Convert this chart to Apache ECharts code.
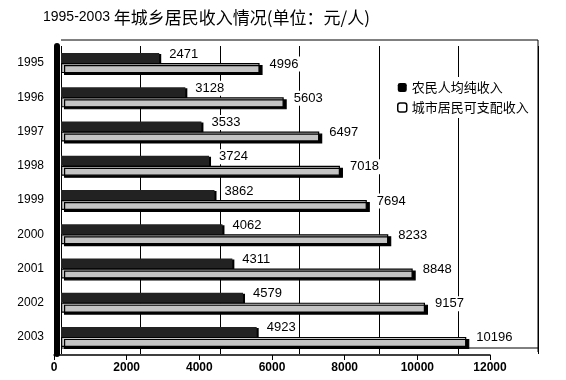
<!DOCTYPE html>
<html><head><meta charset="utf-8">
<script src="https://cdn.jsdelivr.net/npm/echarts@6/dist/echarts.min.js"></script>
<style>html,body{margin:0;padding:0;background:#fff}#c{width:566px;height:380px}</style>
</head><body><div id="c"></div>
<script>
var years = ['1995','1996','1997','1998','1999','2000','2001','2002','2003'];
var farmerIncome = [2471,3128,3533,3724,3862,4062,4311,4579,4923];
var urbanIncome = [4996,5603,6497,7018,7694,8233,8848,9157,10196];
var farmerName = '农民人均纯收入';
var urbanName = '城市居民可支配收入';
var titleYears = '1995-2003 ';
var titleRest = '年城乡居民收入情况(单位：元/人)';
var axisMax = 12000, axisStep = 2000;

var chart = echarts.init(document.getElementById('c'), null, {renderer:'canvas'});
var lbl = function(bg){
  return {show:true, position:'right', distance:8, offset:[0,-4], color:'#000',
    fontSize:13, fontFamily:'Liberation Sans, Arial', backgroundColor:bg, padding:[1,2]};
};
chart.setOption({
  animation:false,
  backgroundColor:'#fff',
  title:{text:'{d|' + titleYears + '}{c|' + titleRest + '}', left:38, top:4,
    textStyle:{fontSize:16, fontWeight:'normal', color:'#000',
      rich:{d:{fontSize:14, fontFamily:'Liberation Sans, Arial', color:'#000'},
            c:{fontSize:17, fontFamily:'Noto Sans CJK SC', color:'#000'}}}},
  legend:{orient:'vertical', left:392, top:77, itemWidth:9, itemHeight:9, itemGap:7,
    backgroundColor:'#fff', padding:[4,5],
    textStyle:{fontSize:13, color:'#000', fontFamily:'Noto Sans CJK SC'},
    data:[{name:farmerName, itemStyle:{color:'#000', borderWidth:0}},
          {name:urbanName, itemStyle:{color:'#fff', borderColor:'#000', borderWidth:1.5}}]},
  graphic:[
    {type:'polyline', shape:{points:[[61,40],[538,40],[538,352]]}, style:{stroke:'#000', lineWidth:1, fill:null}, z:0},
    {type:'line', shape:{x1:61,y1:348,x2:538,y2:348}, style:{stroke:'#000', lineWidth:1}, z:0}
  ],
  grid:[
    {left:61, right:28, top:46, bottom:26},
    {left:54, right:76, top:40, bottom:25}
  ],
  xAxis:[
    {type:'value', gridIndex:0, min:0, max:axisMax, interval:axisStep,
      axisLine:{show:false}, axisTick:{show:false}, axisLabel:{show:false},
      splitLine:{show:true, lineStyle:{color:'#000', width:1}}},
    {type:'value', gridIndex:1, min:0, max:axisMax, interval:axisStep,
      axisLine:{show:true, lineStyle:{color:'#000', width:1.5}},
      axisTick:{show:true, length:5, lineStyle:{color:'#000'}},
      splitLine:{show:false},
      axisLabel:{color:'#000', fontSize:12, fontWeight:'bold', margin:7, fontFamily:'Liberation Sans, Arial',
        formatter:function(v){return String(v);}}}
  ],
  yAxis:[
    {type:'category', gridIndex:0, data:years, inverse:true,
      axisLine:{show:true, onZero:false, lineStyle:{color:'#000', width:6}}, offset:4,
      axisTick:{show:false},
      axisLabel:{color:'#000', fontSize:12, margin:13, fontFamily:'Liberation Sans, Arial'}},
    {type:'value', gridIndex:1, show:false}
  ],
  series:[
    {name:farmerName, type:'bar', xAxisIndex:0, yAxisIndex:0, data:farmerIncome,
      barWidth:10, barGap:'0%',
      itemStyle:{color:'#222', shadowColor:'#000', shadowOffsetX:2, shadowOffsetY:1, shadowBlur:0},
      label:lbl('#fff')},
    {name:urbanName, type:'bar', xAxisIndex:0, yAxisIndex:0, data:urbanIncome,
      barWidth:10, barGap:'0%',
      itemStyle:{color:'#c4c4c4', borderColor:'#000', borderWidth:1.2,
        shadowColor:'#000', shadowOffsetX:3, shadowOffsetY:2, shadowBlur:0},
      label:lbl('#fff')}
  ]
});
</script></body></html>
